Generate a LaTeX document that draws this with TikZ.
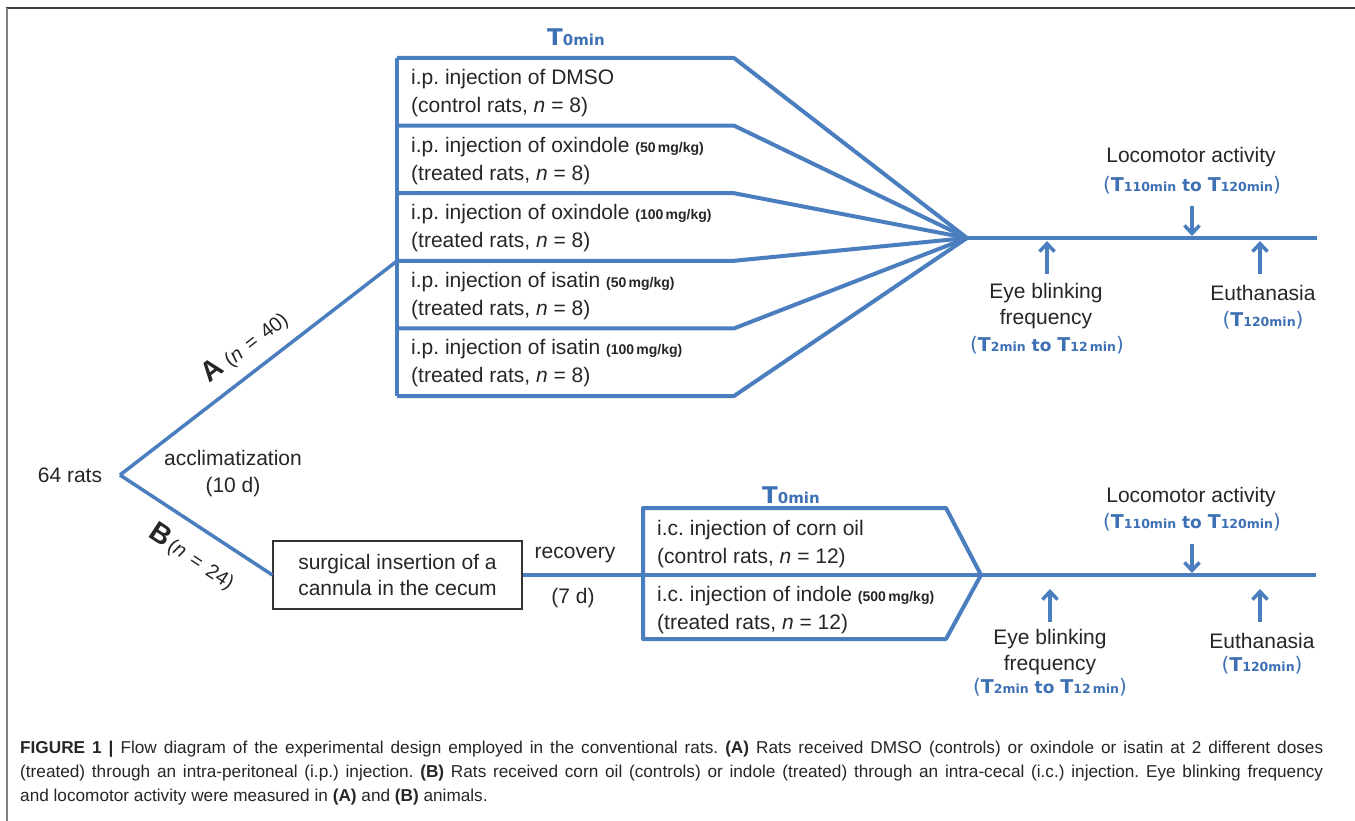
\documentclass[tikz,border=0pt]{standalone}
\usepackage{fontspec}
\setmainfont{Liberation Sans}
\newfontfamily\dvsans{DejaVu Sans}
\usetikzlibrary{arrows.meta}
\definecolor{lblue}{RGB}{74,126,190}
\definecolor{tblue}{RGB}{62,112,180}
\definecolor{txtc}{RGB}{38,38,38}
\newcommand{\myT}[1]{{\fontsize{19}{19}\selectfont T}{\fontsize{12.5}{12.5}\selectfont #1}}
\newcommand{\myTo}{{\fontsize{17}{17}\selectfont\ to\ }}
\newcommand{\myLP}{{\fontsize{20}{20}\selectfont\mdseries (}}
\newcommand{\myRP}{{\fontsize{20}{20}\selectfont\mdseries )}}
\newcommand{\tlabel}[1]{{\color{tblue}\dvsans\bfseries #1}}
\newcommand{\Tzero}{\tlabel{{\fontsize{23}{23}\selectfont T}{\fontsize{15}{15}\selectfont 0min}}}
\newcommand{\dose}[1]{{\fontsize{14}{14}\selectfont\bfseries (#1\,mg/kg)}}
\frenchspacing
\begin{document}
\begin{tikzpicture}[x=1pt,y=-1pt,
  bl/.style={draw=lblue,line width=4pt,line join=round},
  br/.style={draw=lblue,line width=3.5pt},
  arr/.style={draw=lblue,line width=3.5pt,-{Straight Barb[length=8pt,width=15pt]}},
  txt/.style={text=txtc,font=\fontsize{21}{26}\selectfont,inner sep=0pt,align=center},
  rowtxt/.style={text=txtc,font=\fontsize{21}{28}\selectfont,inner sep=0pt,align=left,anchor=west},
  tl/.style={inner sep=0pt},
  captxt/.style={anchor=base west,inner sep=0pt,text=txtc,font=\fontsize{17.2}{17.2}\selectfont}]
\useasboundingbox (0,0) rectangle (1355,821);
\fill[white] (0,0) rectangle (1355,821);
\draw[line width=2pt,black!75] (6,8.5) -- (1355,8.5);
\draw[line width=2pt,black!50] (7,8) -- (7,821);

% ---------- Part A ----------
\coordinate (convA) at (967,238);
\coordinate (endA) at (1317,238);
\foreach \i in {0,...,5}{
  \pgfmathsetmacro{\yy}{58+67.6*\i}
  \draw[bl] (397,\yy) -- (734,\yy) -- (convA);
}
\draw[bl] (397,58) -- (397,396);
\draw[bl] (convA) -- (endA);

\node[tl] (t0a) at (576,37) {\Tzero};
\node[rowtxt] (a1) at (411,93) {i.p. injection of DMSO\\(control rats, \textit{n} = 8)};
\node[rowtxt] (a2) at (411,160.6) {i.p. injection of oxindole \dose{50}\\(treated rats, \textit{n} = 8)};
\node[rowtxt] (a3) at (411,228.2) {i.p. injection of oxindole \dose{100}\\(treated rats, \textit{n} = 8)};
\node[rowtxt] (a4) at (411,295.8) {i.p. injection of isatin \dose{50}\\(treated rats, \textit{n} = 8)};
\node[rowtxt] (a5) at (411,363.4) {i.p. injection of isatin \dose{100}\\(treated rats, \textit{n} = 8)};

\node[txt] (locA) at (1191,157) {Locomotor activity};
\node[tl] (locAt) at (1192,185) {\tlabel{\myLP\myT{110min}\myTo\myT{120min}\myRP}};
\coordinate (locAs) at (1192,206);
\coordinate (locAe) at (1192,236);
\draw[arr] (locAs) -- (locAe);

\coordinate (eyeAs) at (1047,274);
\coordinate (eyeAe) at (1047,241);
\draw[arr] (eyeAs) -- (eyeAe);
\node[txt] (eyeA) at (1046,306.5) {Eye blinking\\frequency};
\node[tl] (eyeAt) at (1047,345) {\tlabel{\myLP\myT{2min}\myTo\myT{12\,min}\myRP}};

\coordinate (euAs) at (1260,274);
\coordinate (euAe) at (1260,241);
\draw[arr] (euAs) -- (euAe);
\node[txt] (euA) at (1263,293) {Euthanasia};
\node[tl] (euAt) at (1263,320) {\tlabel{\myLP\myT{120min}\myRP}};

% ---------- Branches ----------
\coordinate (vtx) at (120,475);
\coordinate (Ain) at (397,261);
\node[txt] (rats) at (70,475) {64 rats};
\draw[br] (vtx) -- (Ain);
\node[txt,font=\fontsize{21}{27}\selectfont] (accl) at (233,473.5) {acclimatization\\(10 d)};
\node[tl,rotate=37.7,text=txtc] (labA) at (245,347) {{\fontsize{28}{28}\selectfont\bfseries A}\hspace{6pt}{\fontsize{20}{20}\selectfont(\textit{n}\hspace{0.4em}=\hspace{0.4em}40)}};
\node[tl,rotate=-33.2,text=txtc] (labB) at (192,557) {{\fontsize{28}{28}\selectfont\bfseries B}\hspace{3pt}{\fontsize{20}{20}\selectfont(\textit{n}\hspace{0.4em}=\hspace{0.4em}24)}};

\node[draw=black!80,line width=1.3pt,minimum width=249pt,minimum height=68pt,text=txtc,font=\fontsize{21}{26}\selectfont,align=center,inner sep=0pt] (surg) at (397.5,575) {surgical insertion of a\\cannula in the cecum};
\draw[br] (vtx) -- (surg.west);
\node[txt] (rec) at (575,555) {recovery};
\node[txt] (recd) at (573,598) {(7 d)};

% ---------- Part B ----------
\coordinate (tipB) at (981,575);
\coordinate (endB) at (1316,575);
\draw[bl] (643,508) -- (946,508) -- (tipB) -- (946,639) -- (643,639) -- cycle;
\draw[bl] (surg.east) -- (tipB) -- (endB);
\node[tl] (t0b) at (791,495) {\Tzero};
\node[rowtxt] (b1) at (657,544) {i.c. injection of corn oil\\(control rats, \textit{n} = 12)};
\node[rowtxt] (b2) at (657,610) {i.c. injection of indole \dose{500}\\(treated rats, \textit{n} = 12)};

\node[txt] (locB) at (1191,497) {Locomotor activity};
\node[tl] (locBt) at (1192,522) {\tlabel{\myLP\myT{110min}\myTo\myT{120min}\myRP}};
\coordinate (locBs) at (1192,544);
\coordinate (locBe) at (1192,573);
\draw[arr] (locBs) -- (locBe);

\coordinate (eyeBs) at (1050,622);
\coordinate (eyeBe) at (1050,589);
\draw[arr] (eyeBs) -- (eyeBe);
\node[txt] (eyeB) at (1050,652) {Eye blinking\\frequency};
\node[tl] (eyeBt) at (1050,687) {\tlabel{\myLP\myT{2min}\myTo\myT{12\,min}\myRP}};

\coordinate (euBs) at (1260,622);
\coordinate (euBe) at (1260,589);
\draw[arr] (euBs) -- (euBe);
\node[txt] (euB) at (1262,641) {Euthanasia};
\node[tl] (euBt) at (1262,665) {\tlabel{\myLP\myT{120min}\myRP}};

% ---------- Caption ----------
\node[captxt] (cap1) at (20,753) {\makebox[1303pt][s]{\textbf{FIGURE 1 |} Flow diagram of the experimental design employed in the conventional rats. \textbf{(A)} Rats received DMSO (controls) or oxindole or isatin at 2 different doses}};
\node[captxt] (cap2) at (20,777) {\makebox[1303pt][s]{(treated) through an intra-peritoneal (i.p.) injection. \textbf{(B)} Rats received corn oil (controls) or indole (treated) through an intra-cecal (i.c.) injection. Eye blinking frequency}};
\node[captxt] (cap3) at (20,801) {and locomotor activity were measured in \textbf{(A)} and \textbf{(B)} animals.};
\end{tikzpicture}
\end{document}
